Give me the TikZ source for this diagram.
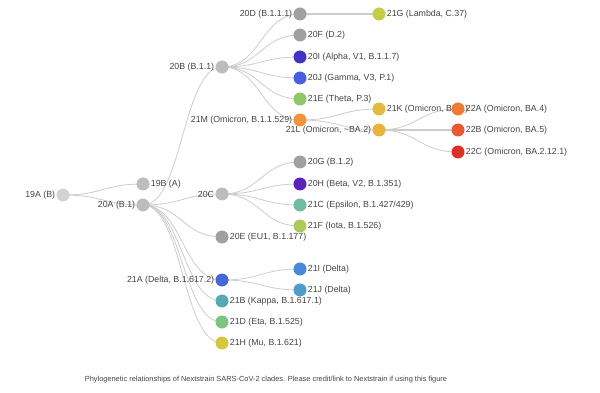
\documentclass[tikz,border=0pt]{standalone}
\usepackage{fontspec}
\setmainfont{Liberation Sans}
\usetikzlibrary{calc}
\definecolor{edgec}{HTML}{CCCCCC}
\definecolor{txt}{HTML}{444444}
\definecolor{cA}{HTML}{D3D3D3}
\definecolor{cB}{HTML}{BDBDBD}
\definecolor{cC}{HTML}{A0A0A0}
\definecolor{c21G}{HTML}{C5CC45}
\definecolor{c20I}{HTML}{4233C4}
\definecolor{c20J}{HTML}{4A5FE0}
\definecolor{c21E}{HTML}{8FC76A}
\definecolor{c21M}{HTML}{F0953A}
\definecolor{c21K}{HTML}{E3BB42}
\definecolor{c21L}{HTML}{EDB13E}
\definecolor{c22A}{HTML}{EF7A34}
\definecolor{c22B}{HTML}{EA5A30}
\definecolor{c22C}{HTML}{DF3027}
\definecolor{c20H}{HTML}{5A23B8}
\definecolor{c21C}{HTML}{6FBC9E}
\definecolor{c21F}{HTML}{AECA58}
\definecolor{c21A}{HTML}{4567DB}
\definecolor{c21I}{HTML}{4B87DB}
\definecolor{c21J}{HTML}{4F9CC9}
\definecolor{c21B}{HTML}{5AA9B0}
\definecolor{c21D}{HTML}{7CC480}
\definecolor{c21H}{HTML}{D6C540}
\tikzset{
  clade/.style={circle,fill=#1,minimum size=13pt,inner sep=0pt,label distance=0.5pt},
  lbl/.style={font=\fontsize{8.8}{10}\selectfont,text=txt,inner sep=1pt},
  branch/.style={edgec,line width=0.8pt,
    to path={let \p1=(\tikztostart), \p2=(\tikztotarget) in
      .. controls ({(\x1+\x2)/2},\y1) and ({(\x1+\x2)/2},\y2) .. (\tikztotarget) \tikztonodes}},
  trunk/.style={edgec,line width=1.8pt}
}
\begin{document}
\begin{tikzpicture}[x=1pt,y=-1pt]
\useasboundingbox (0,0) rectangle (600,393);
% coordinates for edges (drawn first)
\coordinate (p19A) at (63,195);
\coordinate (p19B) at (143,184);
\coordinate (p20A) at (143,205);
\coordinate (p20B) at (222,67);
\coordinate (p20C) at (222,194);
\coordinate (p20E) at (222,237);
\coordinate (p21A) at (222,280);
\coordinate (p21B) at (222,301);
\coordinate (p21D) at (222,322);
\coordinate (p21H) at (222,343);
\coordinate (p20D) at (300,14);
\coordinate (p21G) at (379,14);
\coordinate (p20F) at (300,35);
\coordinate (p20I) at (300,57);
\coordinate (p20J) at (300,78);
\coordinate (p21E) at (300,99);
\coordinate (p21M) at (300,120);
\coordinate (p21K) at (379,109);
\coordinate (p21L) at (379,130);
\coordinate (p22A) at (458,109);
\coordinate (p22B) at (458,130);
\coordinate (p22C) at (458,152);
\coordinate (p20G) at (300,162);
\coordinate (p20H) at (300,184);
\coordinate (p21C) at (300,205);
\coordinate (p21F) at (300,226);
\coordinate (p21I) at (300,269);
\coordinate (p21J) at (300,290);
% edges
\foreach \a/\b in {19A/19B,19A/20A,20A/20B,20A/20C,20A/20E,20A/21A,20A/21B,20A/21D,20A/21H,
  20B/20D,20B/20F,20B/20I,20B/20J,20B/21E,20B/21M,21M/21K,21M/21L,21L/22A,21L/22C,
  20C/20G,20C/20H,20C/21C,20C/21F,21A/21I,21A/21J}
  \draw[branch] (p\a) to (p\b);
\draw[trunk] (p20D) -- (p21G);
\draw[trunk] (p21L) -- (p22B);
% nodes
\node[clade=cA,label={[lbl]left:19A (B)}] (n19A) at (p19A) {};
\node[clade=cB,label={[lbl]right:19B (A)}] (n19B) at (p19B) {};
\node[clade=cB,label={[lbl]left:20A (B.1)}] (n20A) at (p20A) {};
\node[clade=cB,label={[lbl]left:20B (B.1.1)}] (n20B) at (p20B) {};
\node[clade=cB,label={[lbl]left:20C}] (n20C) at (p20C) {};
\node[clade=cC,label={[lbl]right:20E (EU1, B.1.177)}] (n20E) at (p20E) {};
\node[clade=c21A,label={[lbl]left:21A (Delta, B.1.617.2)}] (n21A) at (p21A) {};
\node[clade=c21B,label={[lbl]right:21B (Kappa, B.1.617.1)}] (n21B) at (p21B) {};
\node[clade=c21D,label={[lbl]right:21D (Eta, B.1.525)}] (n21D) at (p21D) {};
\node[clade=c21H,label={[lbl]right:21H (Mu, B.1.621)}] (n21H) at (p21H) {};
\node[clade=cC,label={[lbl]left:20D (B.1.1.1)}] (n20D) at (p20D) {};
\node[clade=c21G,label={[lbl]right:21G (Lambda, C.37)}] (n21G) at (p21G) {};
\node[clade=cC,label={[lbl]right:20F (D.2)}] (n20F) at (p20F) {};
\node[clade=c20I,label={[lbl]right:20I (Alpha, V1, B.1.1.7)}] (n20I) at (p20I) {};
\node[clade=c20J,label={[lbl]right:20J (Gamma, V3, P.1)}] (n20J) at (p20J) {};
\node[clade=c21E,label={[lbl]right:21E (Theta, P.3)}] (n21E) at (p21E) {};
\node[clade=c21M,label={[lbl]left:21M (Omicron, B.1.1.529)}] (n21M) at (p21M) {};
\node[clade=c21K,label={[lbl]right:21K (Omicron, BA.1)}] (n21K) at (p21K) {};
\node[clade=c21L,label={[lbl]left:21L (Omicron, \textasciitilde BA.2)}] (n21L) at (p21L) {};
\node[clade=c22A,label={[lbl]right:22A (Omicron, BA.4)}] (n22A) at (p22A) {};
\node[clade=c22B,label={[lbl]right:22B (Omicron, BA.5)}] (n22B) at (p22B) {};
\node[clade=c22C,label={[lbl]right:22C (Omicron, BA.2.12.1)}] (n22C) at (p22C) {};
\node[clade=cC,label={[lbl]right:20G (B.1.2)}] (n20G) at (p20G) {};
\node[clade=c20H,label={[lbl]right:20H (Beta, V2, B.1.351)}] (n20H) at (p20H) {};
\node[clade=c21C,label={[lbl]right:21C (Epsilon, B.1.427/429)}] (n21C) at (p21C) {};
\node[clade=c21F,label={[lbl]right:21F (Iota, B.1.526)}] (n21F) at (p21F) {};
\node[clade=c21I,label={[lbl]right:21I (Delta)}] (n21I) at (p21I) {};
\node[clade=c21J,label={[lbl]right:21J (Delta)}] (n21J) at (p21J) {};
% caption
\node[font=\fontsize{7.4}{9}\selectfont,text=txt] (cap) at (266,380) {Phylogenetic relationships of Nextstrain SARS-CoV-2 clades. Please credit/link to Nextstrain if using this figure};
\end{tikzpicture}
\end{document}
